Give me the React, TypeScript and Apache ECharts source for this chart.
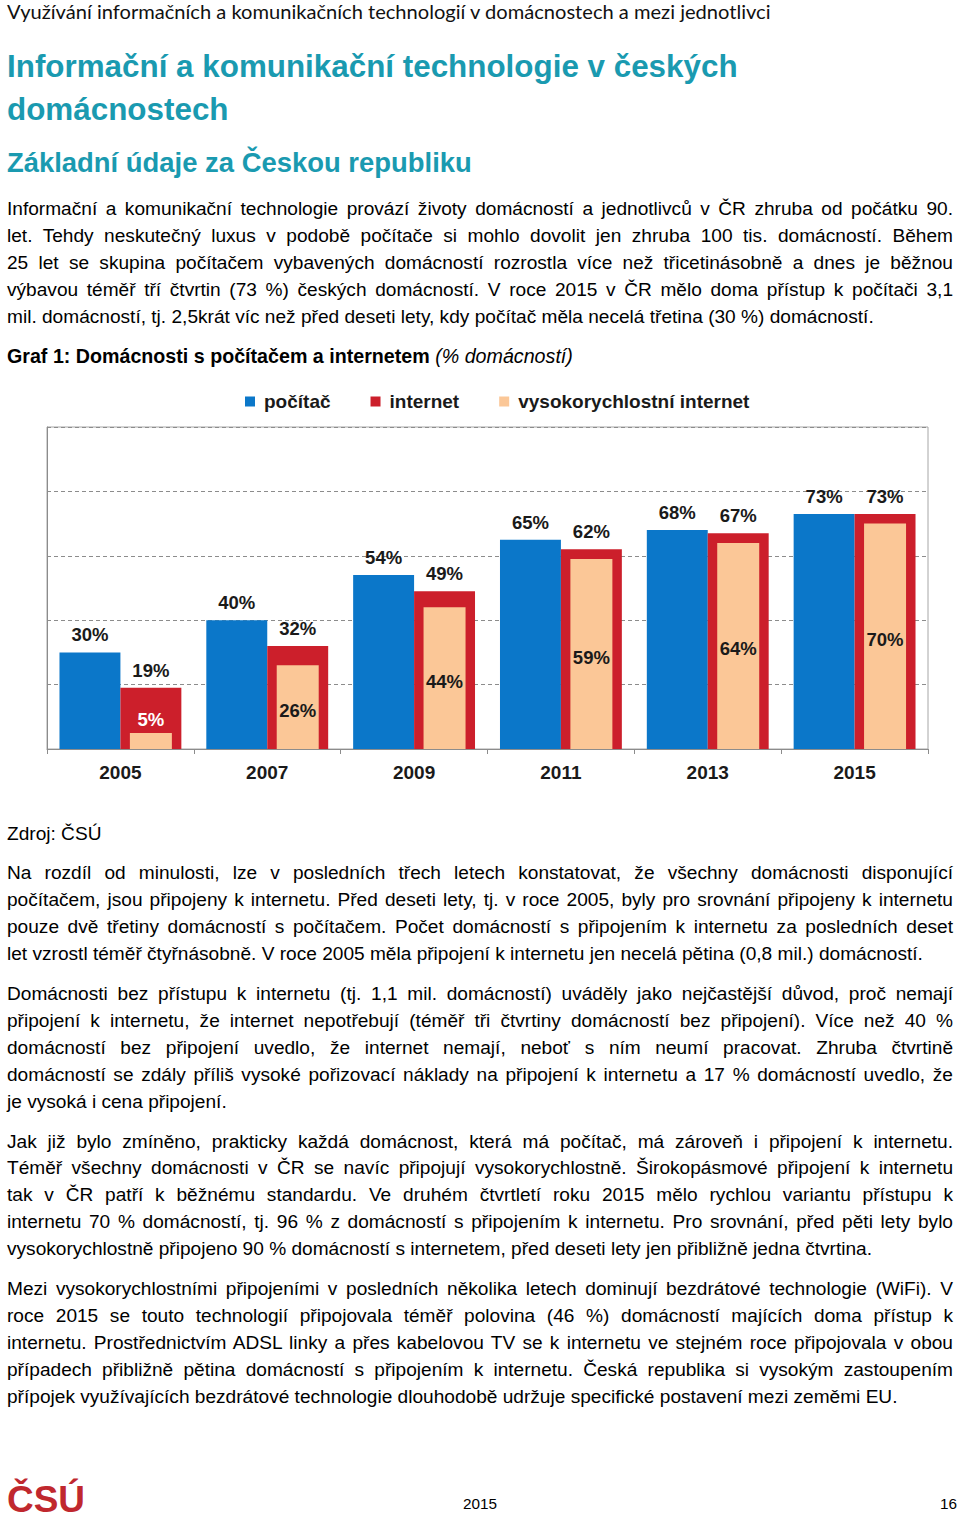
import React, { useEffect, useLayoutEffect, useRef } from "react";
import * as echarts from "echarts";

// ---------- chart data ----------
const years = ["2005", "2007", "2009", "2011", "2013", "2015"];
const pocitac = [30, 40, 54, 65, 68, 73];
const internet = [19, 32, 49, 62, 67, 73];
const vysokorychlostni = [5, 26, 44, 59, 64, 70];
const seriesNames = ["počítač", "internet", "vysokorychlostní internet"];
const yMin = 0;
const yMax = 100;
const yInterval = 20;

// ---------- page text ----------
const headerText =
  "Využívání informačních a komunikačních technologií v domácnostech a mezi jednotlivci";
const titleLines = ["Informační a komunikační technologie v českých", "domácnostech"];
const subtitleText = "Základní údaje za Českou republiku";
const para1 = [
  "Informační a komunikační technologie provází životy domácností a jednotlivců v ČR zhruba od počátku 90.",
  "let. Tehdy neskutečný luxus v podobě počítače si mohlo dovolit jen zhruba 100 tis. domácností. Během",
  "25 let se skupina počítačem vybavených domácností rozrostla více než třicetinásobně a dnes je běžnou",
  "výbavou téměř tří čtvrtin (73 %) českých domácností. V roce 2015 v ČR mělo doma přístup k počítači 3,1",
  "mil. domácností, tj. 2,5krát víc než před deseti lety, kdy počítač měla necelá třetina (30 %) domácností.",
];
const para2 = [
  "Na rozdíl od minulosti, lze v posledních třech letech konstatovat, že všechny domácnosti disponující",
  "počítačem, jsou připojeny k internetu. Před deseti lety, tj. v roce 2005, byly pro srovnání připojeny k internetu",
  "pouze dvě třetiny domácností s počítačem. Počet domácností s připojením k internetu za posledních deset",
  "let vzrostl téměř čtyřnásobně. V roce 2005 měla připojení k internetu jen necelá pětina (0,8 mil.) domácností.",
];
const para3 = [
  "Domácnosti bez přístupu k internetu (tj. 1,1 mil. domácností) uváděly jako nejčastější důvod, proč nemají",
  "připojení k internetu, že internet nepotřebují (téměř tři čtvrtiny domácností bez připojení). Více než 40 %",
  "domácností bez připojení uvedlo, že internet nemají, neboť s ním neumí pracovat. Zhruba čtvrtině",
  "domácností se zdály příliš vysoké pořizovací náklady na připojení k internetu a 17 % domácností uvedlo, že",
  "je vysoká i cena připojení.",
];
const para4 = [
  "Jak již bylo zmíněno, prakticky každá domácnost, která má počítač, má zároveň i připojení k internetu.",
  "Téměř všechny domácnosti v ČR se navíc připojují vysokorychlostně. Širokopásmové připojení k internetu",
  "tak v ČR patří k běžnému standardu. Ve druhém čtvrtletí roku 2015 mělo rychlou variantu přístupu k",
  "internetu 70 % domácností, tj. 96 % z domácností s připojením k internetu. Pro srovnání, před pěti lety bylo",
  "vysokorychlostně připojeno 90 % domácností s internetem, před deseti lety jen přibližně jedna čtvrtina.",
];
const para5 = [
  "Mezi vysokorychlostními připojeními v posledních několika letech dominují bezdrátové technologie (WiFi). V",
  "roce 2015 se touto technologií připojovala téměř polovina (46 %) domácností majících doma přístup k",
  "internetu. Prostřednictvím ADSL linky a přes kabelovou TV se k internetu ve stejném roce připojovala v obou",
  "případech přibližně pětina domácností s připojením k internetu. Česká republika si vysokým zastoupením",
  "přípojek využívajících bezdrátové technologie dlouhodobě udržuje specifické postavení mezi zeměmi EU.",
];

const BODY = '"Liberation Sans", Arial, Helvetica, sans-serif';
const HEAD = 'Lato, "Open Sans", sans-serif';
const TEAL = "#1a9ab0";
const BLUE = "#0b77c9";
const RED = "#cc1f2b";
const PEACH = "#fbc797";
const INK = "#1a1a1a";

type LineProps = {
  y: number;
  x?: number;
  w?: number;
  size: number;
  lh?: number;
  mode?: "none" | "justify" | "fit";
  family?: string;
  weight?: number | string;
  color?: string;
  children: React.ReactNode;
};

function Line({
  y,
  x = 7,
  w = 946,
  size,
  lh = 27,
  mode = "none",
  family = BODY,
  weight = 400,
  color = "#000",
  children,
}: LineProps) {
  const ref = useRef<HTMLSpanElement>(null);
  useLayoutEffect(() => {
    const el = ref.current;
    if (!el) return;
    const apply = () => {
      el.style.wordSpacing = "0px";
      el.style.fontSize = size + "px";
      const nat = el.getBoundingClientRect().width;
      if (mode === "justify") {
        const spaces = (el.textContent || "").trim().split(/\s+/).length - 1;
        if (spaces > 0) el.style.wordSpacing = (w - nat) / spaces + "px";
      } else if (mode === "fit" && nat > 0) {
        el.style.fontSize = (size * w) / nat + "px";
      }
    };
    apply();
    if ((document as any).fonts && (document as any).fonts.ready) {
      (document as any).fonts.ready.then(apply);
    }
  }, []);
  return (
    <div
      style={{
        position: "absolute",
        left: x,
        top: y - lh / 2,
        height: lh,
        lineHeight: lh + "px",
        whiteSpace: "nowrap",
        color,
        fontFamily: family,
        fontWeight: weight as any,
      }}
    >
      <span ref={ref} style={{ display: "inline-block", fontSize: size }}>
        {children}
      </span>
    </div>
  );
}

function Paragraph({ lines, ys }: { lines: string[]; ys: number[] }) {
  return (
    <>
      {lines.map((t, i) => (
        <Line key={i} y={ys[i]} size={19.1} mode={i === lines.length - 1 ? "none" : "justify"}>
          {t}
        </Line>
      ))}
    </>
  );
}

function Chart() {
  const ref = useRef<HTMLDivElement>(null);
  useEffect(() => {
    if (!ref.current) return;
    const chart = echarts.init(ref.current, null, { renderer: "svg" });
    const renderPeach = (params: any, api: any) => {
      const idx = api.value(0);
      const val = api.value(1);
      const top = api.coord([idx, val]);
      const base = api.coord([idx, 0]);
      const band = api.size([1, 0])[0];
      const w = band * 0.286;
      const cx = top[0] + band * 0.2075;
      const small = val < 10;
      return {
        type: "rect",
        shape: { x: cx - w / 2, y: top[1], width: w, height: base[1] - top[1] },
        style: { fill: api.visual("color") },
        textContent: {
          style: {
            text: val + "%",
            fontSize: 18.5,
            fontWeight: "bold",
            fontFamily: BODY,
            fill: small ? "#ffffff" : INK,
          },
        },
        textConfig: small
          ? { position: "top", distance: 4 }
          : { position: "inside", offset: [0, 3] },
      };
    };
    const valueLabel = {
      show: true,
      position: "top",
      distance: 8,
      formatter: "{c}%",
      fontSize: 18.5,
      fontWeight: "bold",
      fontFamily: BODY,
      color: INK,
    };
    chart.setOption({
      animation: false,
      textStyle: { fontFamily: BODY },
      legend: {
        left: 240,
        top: 7,
        icon: "rect",
        itemWidth: 10,
        itemHeight: 10,
        itemGap: 40,
        selectedMode: false,
        data: seriesNames,
        textStyle: {
          fontSize: 19,
          fontWeight: "bold",
          color: INK,
          fontFamily: BODY,
          padding: [0, 0, 0, 4],
        },
      },
      grid: {
        left: 47,
        right: 32,
        top: 47,
        bottom: 51,
        show: true,
        borderColor: "#a6a6a6",
        borderWidth: 1,
      },
      xAxis: {
        type: "category",
        data: years,
        axisLine: { lineStyle: { color: "#8c8c8c", width: 1 } },
        axisTick: { show: true, length: 5, lineStyle: { color: "#8c8c8c" } },
        axisLabel: {
          fontSize: 19,
          fontWeight: "bold",
          color: INK,
          margin: 14,
          fontFamily: BODY,
        },
      },
      yAxis: {
        type: "value",
        min: yMin,
        max: yMax,
        interval: yInterval,
        axisLabel: { show: false },
        axisTick: { show: false },
        axisLine: { show: true, lineStyle: { color: "#8c8c8c" } },
        splitLine: { show: true, lineStyle: { color: "#8c8c8c", type: [4, 3], width: 1 } },
      },
      series: [
        {
          name: seriesNames[0],
          type: "bar",
          data: pocitac,
          barWidth: "41.5%",
          barGap: "0%",
          itemStyle: { color: BLUE },
          label: valueLabel,
        },
        {
          name: seriesNames[1],
          type: "bar",
          data: internet,
          barWidth: "41.5%",
          barGap: "0%",
          itemStyle: { color: RED },
          label: valueLabel,
        },
        {
          name: seriesNames[2],
          type: "custom",
          z: 3,
          itemStyle: { color: PEACH },
          encode: { x: 0, y: 1 },
          data: vysokorychlostni.map((v, i) => [i, v]),
          renderItem: renderPeach,
        },
      ],
    });
    return () => chart.dispose();
  }, []);
  return (
    <div
      ref={ref}
      style={{ position: "absolute", left: 0, top: 380, width: 960, height: 420 }}
    />
  );
}

export default function App() {
  return (
    <div
      style={{
        position: "absolute",
        left: 0,
        top: 0,
        width: 960,
        height: 1523,
        background: "#fff",
        overflow: "hidden",
      }}
    >
      <Line y={11} w={764} size={19} lh={22} mode="fit" family={HEAD} color="#111">
        {headerText}
      </Line>
      <Line y={67} w={731} size={31} lh={40} mode="fit" weight={700} color={TEAL}>
        {titleLines[0]}
      </Line>
      <Line y={110} size={31.4} lh={40} weight={700} color={TEAL}>
        {titleLines[1]}
      </Line>
      <Line y={163} w={465} size={27} lh={36} mode="fit" weight={700} color={TEAL}>
        {subtitleText}
      </Line>

      <Paragraph lines={para1} ys={[208, 235, 262, 289, 316]} />

      <Line y={356} w={566} size={19} mode="fit">
        <b>Graf 1: Domácnosti s počítačem a internetem</b> <i>(% domácností)</i>
      </Line>

      <Chart />

      <Line y={833} size={19.1}>
        Zdroj: ČSÚ
      </Line>

      <Paragraph lines={para2} ys={[872, 899, 926, 953]} />
      <Paragraph lines={para3} ys={[993, 1020, 1047, 1074, 1101]} />
      <Paragraph lines={para4} ys={[1141, 1167, 1194, 1221, 1248]} />
      <Paragraph lines={para5} ys={[1288, 1315, 1342, 1369, 1396]} />

      <Line y={1500} w={78} size={40} lh={46} mode="fit" weight={700} color="#c0282e">
        ČSÚ
      </Line>
      <div
        style={{
          position: "absolute",
          left: 0,
          width: 960,
          top: 1494,
          lineHeight: "20px",
          textAlign: "center",
          fontFamily: BODY,
          fontSize: 15.3,
          color: "#000",
        }}
      >
        2015
      </div>
      <div
        style={{
          position: "absolute",
          right: 3,
          top: 1494,
          lineHeight: "20px",
          fontFamily: BODY,
          fontSize: 15.3,
          color: "#000",
        }}
      >
        16
      </div>
    </div>
  );
}
